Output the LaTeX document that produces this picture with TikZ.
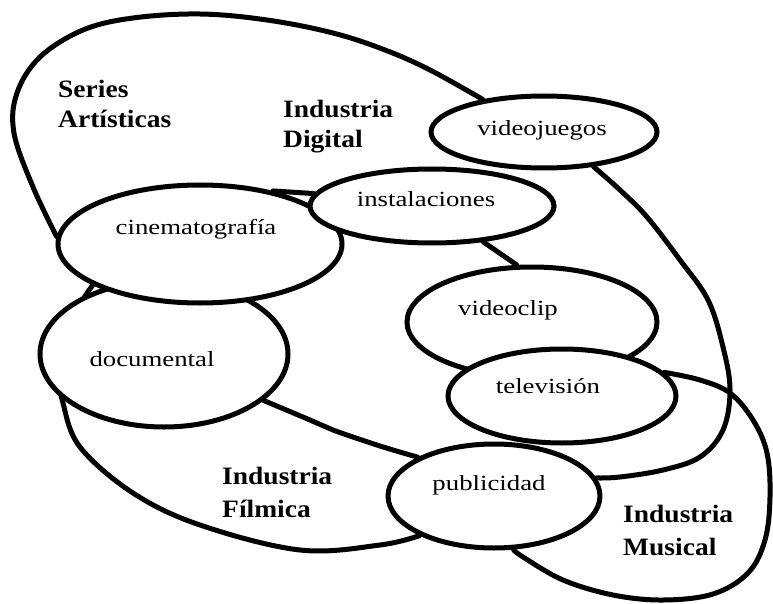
\documentclass[tikz,border=0pt]{standalone}
\usepackage{fontspec}
\setmainfont{Liberation Serif}
\newfontfamily\regfont[FakeStretch=1.24]{Liberation Serif}
\newfontfamily\bldfont[FakeStretch=1.1]{Liberation Serif}
\usetikzlibrary{shapes.geometric}
\pgfdeclarelayer{bg}
\pgfsetlayers{bg,main}
\begin{document}
\begin{tikzpicture}[x=1pt,y=-1pt,
  outline/.style={line width=5pt, line join=round, line cap=round},
  blob/.style={ellipse, draw, fill=white, line width=5pt, inner sep=0pt},
  smalltxt/.style={anchor=base, inner sep=0pt, font=\regfont\fontsize{21.6}{26}\selectfont},
  bigtxt/.style={anchor=base west, inner sep=0pt, font=\bldfont\bfseries\fontsize{25}{30}\selectfont}]
\useasboundingbox (0,0) rectangle (773,604);

% small ellipses (main layer, order matters)
\node[blob, minimum width=248pt, minimum height=146pt] (docu) at (164,354) {};
\node[blob, minimum width=284pt, minimum height=118pt] (cine) at (200,244) {};
\node[blob, minimum width=244pt, minimum height=74pt]  (inst) at (432,206) {};
\node[blob, minimum width=226pt, minimum height=72pt]  (vjue) at (544,132) {};
\node[blob, minimum width=250pt, minimum height=110pt] (vclip) at (532,322) {};
\node[blob, minimum width=228pt, minimum height=94pt]  (tele) at (562,396) {};
\node[blob, minimum width=212pt, minimum height=104pt] (publ) at (494,496) {};

% large outlines (behind)
\begin{pgfonlayer}{bg}
\draw[outline] plot[smooth, tension=0.6] coordinates {(cine.177) (33,187) (14,133) (17,93) (40,57) (83,30) (133,18) (200,14) (267,20) (333,33) (385,50) (430,70) (vjue.152)};
\draw[outline] plot[smooth, tension=0.6] coordinates {(vjue.-35) (620,190) (647,217) (680,260) (708,300) (723,347) (730,390) (723,430) (700,457) (663,470) (620,477) (publ.10)};
\draw[outline] (cine.36) -- (inst.174);
\draw[outline] (inst.-35) -- (vclip.105);
\draw[outline] plot[smooth, tension=0.6] coordinates {(cine.201) (80,305) (66,340) (60,375) (63,403) (80,447) (133,493) (200,525) (300,550) (380,545) (publ.208)};
\draw[outline] plot[smooth, tension=0.6] coordinates {(docu.-25) (310,420) (333,430) (380,446) (publ.153)};
\draw[outline] plot[smooth, tension=0.6] coordinates {(tele.13) (700,380) (730,393) (753,420) (767,453) (770,497) (765,540) (748,573) (713,594) (663,600) (613,595) (563,580) (523,557) (publ.-70)};
\end{pgfonlayer}

% texts
\node[smalltxt] (tcine) at (196,234) {cinematografía};
\node[smalltxt] (tinst) at (426,207) {instalaciones};
\node[smalltxt] (tvjue) at (542,136) {videojuegos};
\node[smalltxt] (tvclip) at (508,315) {videoclip};
\node[smalltxt] (ttele) at (548,393) {televisión};
\node[smalltxt] (tdocu) at (152,366) {documental};
\node[smalltxt] (tpubl) at (489,490) {publicidad};

\node[bigtxt] (lsa) at (58,98) {\begin{tabular}[t]{@{}l@{}}Series\\Artísticas\end{tabular}};
\node[bigtxt] (lid) at (283,118) {\begin{tabular}[t]{@{}l@{}}Industria\\Digital\end{tabular}};
\node[bigtxt, font=\bldfont\bfseries\fontsize{25}{33}\selectfont] (lif) at (222,484) {\begin{tabular}[t]{@{}l@{}}Industria\\Fílmica\end{tabular}};
\node[bigtxt, font=\bldfont\bfseries\fontsize{25}{33}\selectfont] (lim) at (623,522) {\begin{tabular}[t]{@{}l@{}}Industria\\Musical\end{tabular}};
\end{tikzpicture}
\end{document}
